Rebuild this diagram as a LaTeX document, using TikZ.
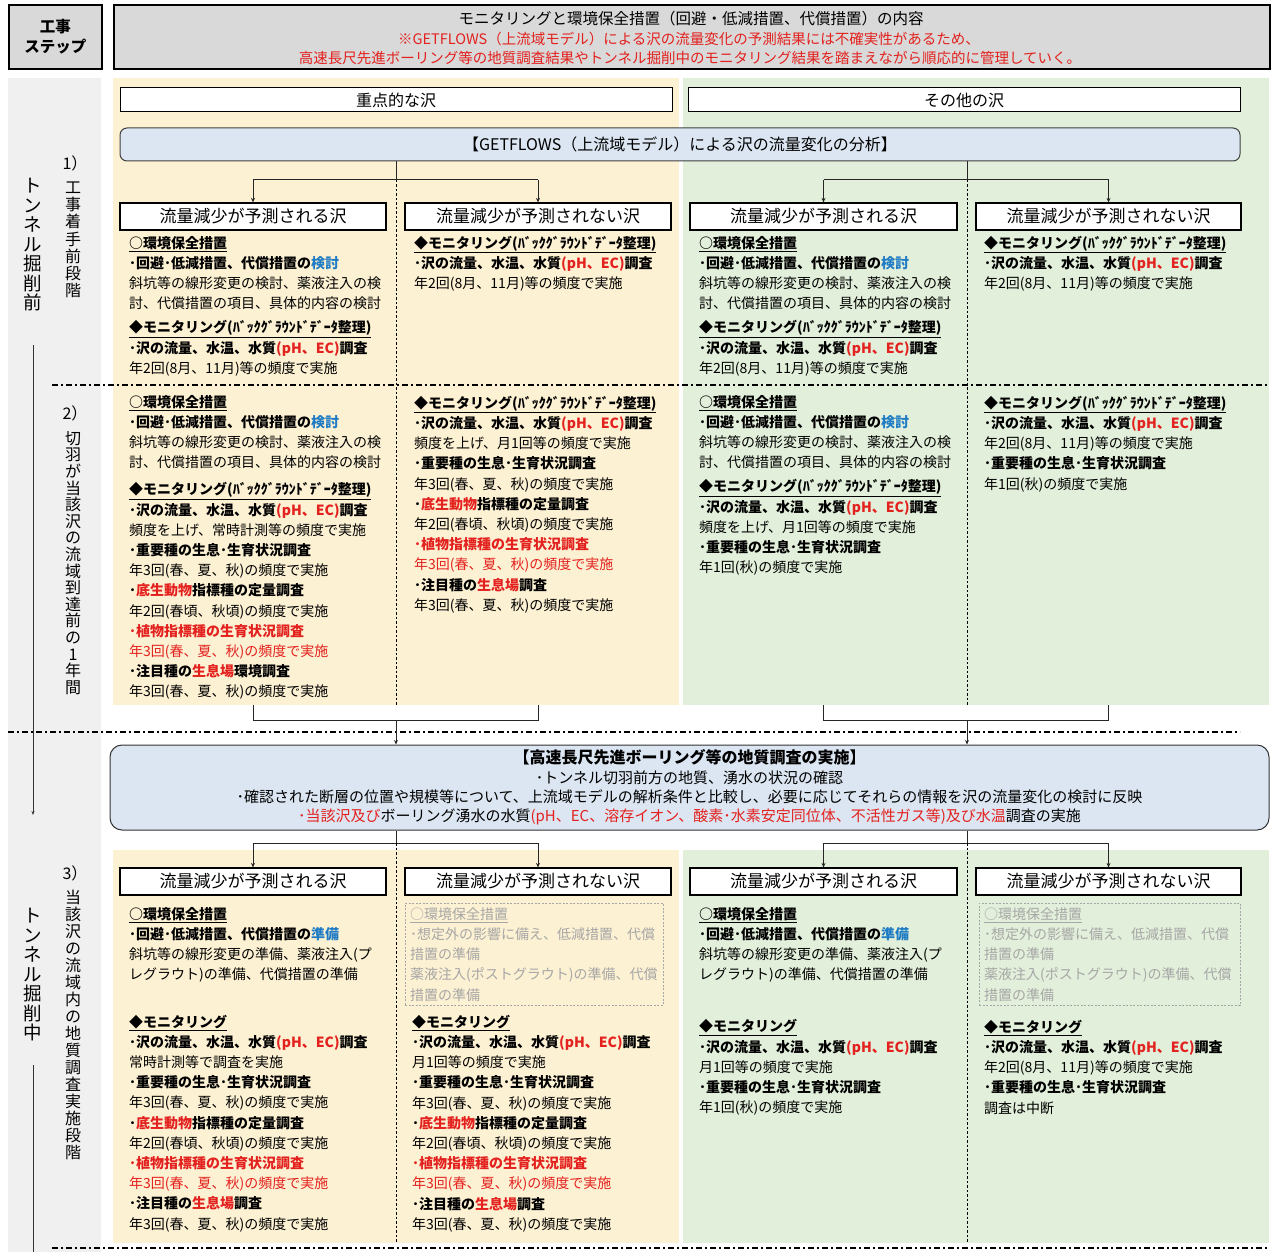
\documentclass[tikz,border=0pt]{standalone}
\usepackage{fontspec}
\setmainfont{Noto Sans CJK JP}
\usetikzlibrary{arrows.meta}
\definecolor{hdrgray}{HTML}{D9D9D9}
\definecolor{sidegray}{HTML}{F0F0F0}
\definecolor{yel}{HTML}{FDF1D3}
\definecolor{grn}{HTML}{E2EFDA}
\definecolor{lblue}{HTML}{DCE6F2}
\definecolor{jred}{HTML}{E3211E}
\definecolor{jblue}{HTML}{1F7CC4}
\definecolor{jgray}{HTML}{A6A6A6}
\newcommand{\jr}[1]{\textcolor{jred}{#1}}
\newcommand{\jb}[1]{\textcolor{jblue}{#1}}
\newcommand{\uhd}[1]{\underline{\textbf{#1}}}
\newcommand{\bkgd}{(ﾊﾞｯｸｸﾞﾗｳﾝﾄﾞﾃﾞｰﾀ整理)}
\begin{document}
\begin{tikzpicture}[x=1pt,y=-1pt,
 regionbox/.style={inner sep=0pt, outer sep=0pt, anchor=north west},
 titlebox/.style={draw=black, line width=1.2pt, fill=white, inner sep=0pt, minimum height=27pt, font=\fontsize{17}{20}\selectfont},
 grpbox/.style={draw=black, line width=1pt, fill=white, inner sep=0pt, minimum width=552pt, minimum height=24pt, font=\fontsize{16}{19}\selectfont},
 bodytext/.style={anchor=north west, inner sep=0pt, align=left, font=\fontsize{14}{20.2}\selectfont},
 vtext/.style={align=center, inner sep=0pt, font=\fontsize{16}{17.2}\selectfont},
 dashdot/.style={line width=1.3pt, dash pattern=on 6pt off 3pt on 2pt off 3pt},
 conn/.style={line width=1pt, draw=black!85},
 arr/.style={conn, -{Stealth[length=4.5pt,width=4pt]}},
 divider/.style={line width=0.6pt, dash pattern=on 2.5pt off 2pt},
 greybox/.style={draw=black!35, line width=0.7pt, dash pattern=on 2pt off 1.5pt, anchor=north west, inner sep=0pt},
 hdrbox/.style={draw=black, line width=1.6pt, fill=hdrgray, minimum height=64pt, anchor=north west, inner sep=0pt}
]
\useasboundingbox (0,0) rectangle (1274,1252);

% background regions
\node[regionbox, fill=sidegray, minimum width=93pt, minimum height=1174pt] (side) at (8,78) {};
\node[regionbox, fill=yel, minimum width=566pt, minimum height=627pt] (Y1) at (113,78) {};
\node[regionbox, fill=grn, minimum width=586pt, minimum height=627pt] (G1) at (683,78) {};
\node[regionbox, fill=yel, minimum width=566pt, minimum height=393pt] (Y2) at (113,850) {};
\node[regionbox, fill=grn, minimum width=586pt, minimum height=393pt] (G2) at (683,850) {};

% header
\node[hdrbox, minimum width=93pt, align=center, font=\fontsize{15.5}{20}\selectfont\bfseries] (step) at (8,4) {工事\\ステップ};
\node[hdrbox, minimum width=1156pt] (hdr) at (113,4) {};
\node[inner sep=0pt, font=\fontsize{15.5}{18}\selectfont] (h1) at (691,19) {モニタリングと環境保全措置（回避・低減措置、代償措置）の内容};
\node[inner sep=0pt, text=jred, font=\fontsize{14.5}{18}\selectfont] (h2) at (689,39) {※GETFLOWS（上流域モデル）による沢の流量変化の予測結果には不確実性があるため、};
\node[inner sep=0pt, text=jred, font=\fontsize{14.5}{18}\selectfont] (h3) at (690,58) {高速長尺先進ボーリング等の地質調査結果やトンネル掘削中のモニタリング結果を踏まえながら順応的に管理していく。};

% side labels
\node[vtext] (n1) at (75,163) {1）};
\node[vtext] (t1) at (73,240) {工\\事\\着\\手\\前\\段\\階};
\node[vtext] (n2) at (75,413) {2）};
\node[vtext, font=\fontsize{16}{16.6}\selectfont] (t2) at (73,563) {切\\羽\\が\\当\\該\\沢\\の\\流\\域\\到\\達\\前\\の\\1\\年\\間};
\node[vtext] (n3) at (75,873) {3）};
\node[vtext, font=\fontsize{16}{17}\selectfont] (t3) at (73,1025) {当\\該\\沢\\の\\流\\域\\内\\の\\地\\質\\調\\査\\実\\施\\段\\階};
\node[vtext, font=\fontsize{18.5}{19.5}\selectfont] (m1) at (33,245) {ト\\ン\\ネ\\ル\\掘\\削\\前};
\node[vtext, font=\fontsize{18.5}{19.5}\selectfont] (m2) at (33,975) {ト\\ン\\ネ\\ル\\掘\\削\\中};
\coordinate (sa1) at (33,345);
\coordinate (sa2) at (33,815);
\coordinate (sb1) at (33,1065);
\coordinate (sb2) at (33,1252);
\draw[line width=0.8pt, draw=black!80, -{Stealth[length=4pt,width=3pt]}] (sa1) -- (sa2);
\draw[line width=0.8pt, draw=black!80] (sb1) -- (sb2);

% group boxes
\node[grpbox] (grpA) at (396,100) {重点的な沢};
\node[grpbox] (grpB) at (964,100) {その他の沢};
\node[draw=black!75, line width=1pt, rounded corners=7pt, fill=lblue, minimum width=1120pt, minimum height=33pt, inner sep=0pt, font=\fontsize{16}{19}\selectfont] (getf) at (680,144.5) {【GETFLOWS（上流域モデル）による沢の流量変化の分析】};

% title boxes row 1
\node[titlebox, minimum width=266pt] (A1) at (253,216.5) {流量減少が予測される沢};
\node[titlebox, minimum width=266pt] (A2) at (538,216.5) {流量減少が予測されない沢};
\node[titlebox, minimum width=267pt] (B1) at (823.5,216.5) {流量減少が予測される沢};
\node[titlebox, minimum width=265pt] (B2) at (1108.5,216.5) {流量減少が予測されない沢};

% connectors row 1
\coordinate (jA) at (396,180);
\coordinate (jB) at (967,180);
\draw[conn] (getf.south -| jA) -- (jA);
\draw[conn] (A1.north |- jA) -- (A2.north |- jA);
\draw[arr] (A1.north |- jA) -- (A1.north);
\draw[arr] (A2.north |- jA) -- (A2.north);
\draw[conn] (getf.south -| jB) -- (jB);
\draw[conn] (B1.north |- jB) -- (B2.north |- jB);
\draw[arr] (B1.north |- jB) -- (B1.north);
\draw[arr] (B2.north |- jB) -- (B2.north);
\draw[divider] (jA) -- (jA |- Y1.south);
\draw[divider] (jB) -- (jB |- G1.south);

% section 1 texts
\node[bodytext] (a1p) at (129,234) {\strut\uhd{○環境保全措置}\\
\textbf{･回避･低減措置、代償措置の\jb{検討}}\\
斜坑等の線形変更の検討、薬液注入の検\\
討、代償措置の項目、具体的内容の検討\\[3.8pt]
\uhd{◆モニタリング\bkgd}\\
\textbf{･沢の流量、水温、水質\jr{(pH、EC)}調査}\\
年2回(8月、11月)等の頻度で実施};
\node[bodytext] (a2p) at (414,234) {\strut\uhd{◆モニタリング\bkgd}\\
\textbf{･沢の流量、水温、水質\jr{(pH、EC)}調査}\\
年2回(8月、11月)等の頻度で実施};
\node[bodytext] (b1p) at (699,234) {\strut\uhd{○環境保全措置}\\
\textbf{･回避･低減措置、代償措置の\jb{検討}}\\
斜坑等の線形変更の検討、薬液注入の検\\
討、代償措置の項目、具体的内容の検討\\[3.8pt]
\uhd{◆モニタリング\bkgd}\\
\textbf{･沢の流量、水温、水質\jr{(pH、EC)}調査}\\
年2回(8月、11月)等の頻度で実施};
\node[bodytext] (b2p) at (984,234) {\strut\uhd{◆モニタリング\bkgd}\\
\textbf{･沢の流量、水温、水質\jr{(pH、EC)}調査}\\
年2回(8月、11月)等の頻度で実施};

% section 2 texts
\node[bodytext] (a1q) at (129,393) {\strut\uhd{○環境保全措置}\\
\textbf{･回避･低減措置、代償措置の\jb{検討}}\\
斜坑等の線形変更の検討、薬液注入の検\\
討、代償措置の項目、具体的内容の検討\\[6.8pt]
\uhd{◆モニタリング\bkgd}\\
\textbf{･沢の流量、水温、水質\jr{(pH、EC)}調査}\\
頻度を上げ、常時計測等の頻度で実施\\
\textbf{･重要種の生息･生育状況調査}\\
年3回(春、夏、秋)の頻度で実施\\
\textbf{･\jr{底生動物}指標種の定量調査}\\
年2回(春頃、秋頃)の頻度で実施\\
\jr{\textbf{･植物指標種の生育状況調査}}\\
\jr{年3回(春、夏、秋)の頻度で実施}\\
\textbf{･注目種の\jr{生息場}環境調査}\\
年3回(春、夏、秋)の頻度で実施};
\node[bodytext] (a2q) at (414,394) {\strut\uhd{◆モニタリング\bkgd}\\
\textbf{･沢の流量、水温、水質\jr{(pH、EC)}調査}\\
頻度を上げ、月1回等の頻度で実施\\
\textbf{･重要種の生息･生育状況調査}\\
年3回(春、夏、秋)の頻度で実施\\
\textbf{･\jr{底生動物}指標種の定量調査}\\
年2回(春頃、秋頃)の頻度で実施\\
\jr{\textbf{･植物指標種の生育状況調査}}\\
\jr{年3回(春、夏、秋)の頻度で実施}\\
\textbf{･注目種の\jr{生息場}調査}\\
年3回(春、夏、秋)の頻度で実施};
\node[bodytext] (b1q) at (699,393) {\strut\uhd{○環境保全措置}\\
\textbf{･回避･低減措置、代償措置の\jb{検討}}\\
斜坑等の線形変更の検討、薬液注入の検\\
討、代償措置の項目、具体的内容の検討\\[3.8pt]
\uhd{◆モニタリング\bkgd}\\
\textbf{･沢の流量、水温、水質\jr{(pH、EC)}調査}\\
頻度を上げ、月1回等の頻度で実施\\
\textbf{･重要種の生息･生育状況調査}\\
年1回(秋)の頻度で実施};
\node[bodytext] (b2q) at (984,394) {\strut\uhd{◆モニタリング\bkgd}\\
\textbf{･沢の流量、水温、水質\jr{(pH、EC)}調査}\\
年2回(8月、11月)等の頻度で実施\\
\textbf{･重要種の生息･生育状況調査}\\
年1回(秋)の頻度で実施};

% dash-dot separators
\draw[dashdot] (52,385) -- (1269,385);
\draw[dashdot] (8,732) -- (1240,732);
\draw[dashdot] (52,1248) -- (1269,1248);

% boring box
\node[draw=black!80, line width=1pt, rounded corners=12pt, fill=lblue, minimum width=1159pt, minimum height=85pt, align=center, inner sep=0pt, font=\fontsize{15}{19.3}\selectfont] (boring) at (689.5,787.5) {{\fontsize{16}{19.3}\selectfont\bfseries 【高速長尺先進ボーリング等の地質調査の実施】}\\
･トンネル切羽前方の地質、湧水の状況の確認\\
･確認された断層の位置や規模等について、上流域モデルの解析条件と比較し、必要に応じてそれらの情報を沢の流量変化の検討に反映\\
\jr{･当該沢及び}ボーリング湧水の水質\jr{(pH、EC、溶存イオン、酸素･水素安定同位体、不活性ガス等)及び水温}調査の実施};

% brackets into boring box
\coordinate (kA) at (396,720);
\coordinate (kB) at (967,720);
\draw[conn] (A1 |- Y1.south) -- (A1 |- kA) -- (A2 |- kA) -- (A2 |- Y1.south);
\draw[arr] (kA) -- (kA |- boring.north);
\draw[conn] (B1 |- G1.south) -- (B1 |- kB) -- (B2 |- kB) -- (B2 |- G1.south);
\draw[arr] (kB) -- (kB |- boring.north);

% title boxes row 3
\node[titlebox, minimum width=266pt] (A1b) at (253,881.5) {流量減少が予測される沢};
\node[titlebox, minimum width=266pt] (A2b) at (538,881.5) {流量減少が予測されない沢};
\node[titlebox, minimum width=267pt] (B1b) at (823.5,881.5) {流量減少が予測される沢};
\node[titlebox, minimum width=265pt] (B2b) at (1108.5,881.5) {流量減少が予測されない沢};

\coordinate (mA) at (396,843);
\coordinate (mB) at (967,843);
\draw[conn] (boring.south -| mA) -- (mA);
\draw[conn] (A1b.north |- mA) -- (A2b.north |- mA);
\draw[arr] (A1b.north |- mA) -- (A1b.north);
\draw[arr] (A2b.north |- mA) -- (A2b.north);
\draw[conn] (boring.south -| mB) -- (mB);
\draw[conn] (B1b.north |- mB) -- (B2b.north |- mB);
\draw[arr] (B1b.north |- mB) -- (B1b.north);
\draw[arr] (B2b.north |- mB) -- (B2b.north);
\draw[divider] (mA) -- (mA |- Y2.south);
\draw[divider] (mB) -- (mB |- G2.south);

% section 3 texts
\node[bodytext] (a1r) at (129,905) {\strut\uhd{○環境保全措置}\\
\textbf{･回避･低減措置、代償措置の\jb{準備}}\\
斜坑等の線形変更の準備、薬液注入(プ\\
レグラウト)の準備、代償措置の準備\\[27pt]
\uhd{◆モニタリング}\\
\textbf{･沢の流量、水温、水質\jr{(pH、EC)}調査}\\
常時計測等で調査を実施\\
\textbf{･重要種の生息･生育状況調査}\\
年3回(春、夏、秋)の頻度で実施\\
\textbf{･\jr{底生動物}指標種の定量調査}\\
年2回(春頃、秋頃)の頻度で実施\\
\jr{\textbf{･植物指標種の生育状況調査}}\\
\jr{年3回(春、夏、秋)の頻度で実施}\\
\textbf{･注目種の\jr{生息場}調査}\\
年3回(春、夏、秋)の頻度で実施};

\node[greybox, minimum width=258pt, minimum height=102pt] (gb1) at (405,903) {};
\node[bodytext, text=jgray] (a2g) at (410,905) {\strut\underline{○環境保全措置}\\
･想定外の影響に備え、低減措置、代償\\
措置の準備\\
薬液注入(ポストグラウト)の準備、代償\\
措置の準備};
\node[bodytext] (a2r) at (412,1013) {\strut\uhd{◆モニタリング}\\
\textbf{･沢の流量、水温、水質\jr{(pH、EC)}調査}\\
月1回等の頻度で実施\\
\textbf{･重要種の生息･生育状況調査}\\
年3回(春、夏、秋)の頻度で実施\\
\textbf{･\jr{底生動物}指標種の定量調査}\\
年2回(春頃、秋頃)の頻度で実施\\
\jr{\textbf{･植物指標種の生育状況調査}}\\
\jr{年3回(春、夏、秋)の頻度で実施}\\
\textbf{･注目種の\jr{生息場}調査}\\
年3回(春、夏、秋)の頻度で実施};

\node[bodytext] (b1r) at (699,905) {\strut\uhd{○環境保全措置}\\
\textbf{･回避･低減措置、代償措置の\jb{準備}}\\
斜坑等の線形変更の準備、薬液注入(プ\\
レグラウト)の準備、代償措置の準備\\[31.8pt]
\uhd{◆モニタリング}\\
\textbf{･沢の流量、水温、水質\jr{(pH、EC)}調査}\\
月1回等の頻度で実施\\
\textbf{･重要種の生息･生育状況調査}\\
年1回(秋)の頻度で実施};

\node[greybox, minimum width=261pt, minimum height=102pt] (gb2) at (979,903) {};
\node[bodytext, text=jgray] (b2g) at (984,905) {\strut\underline{○環境保全措置}\\
･想定外の影響に備え、低減措置、代償\\
措置の準備\\
薬液注入(ポストグラウト)の準備、代償\\
措置の準備};
\node[bodytext] (b2r) at (984,1018) {\strut\uhd{◆モニタリング}\\
\textbf{･沢の流量、水温、水質\jr{(pH、EC)}調査}\\
年2回(8月、11月)等の頻度で実施\\
\textbf{･重要種の生息･生育状況調査}\\
調査は中断};
\end{tikzpicture}
\end{document}
